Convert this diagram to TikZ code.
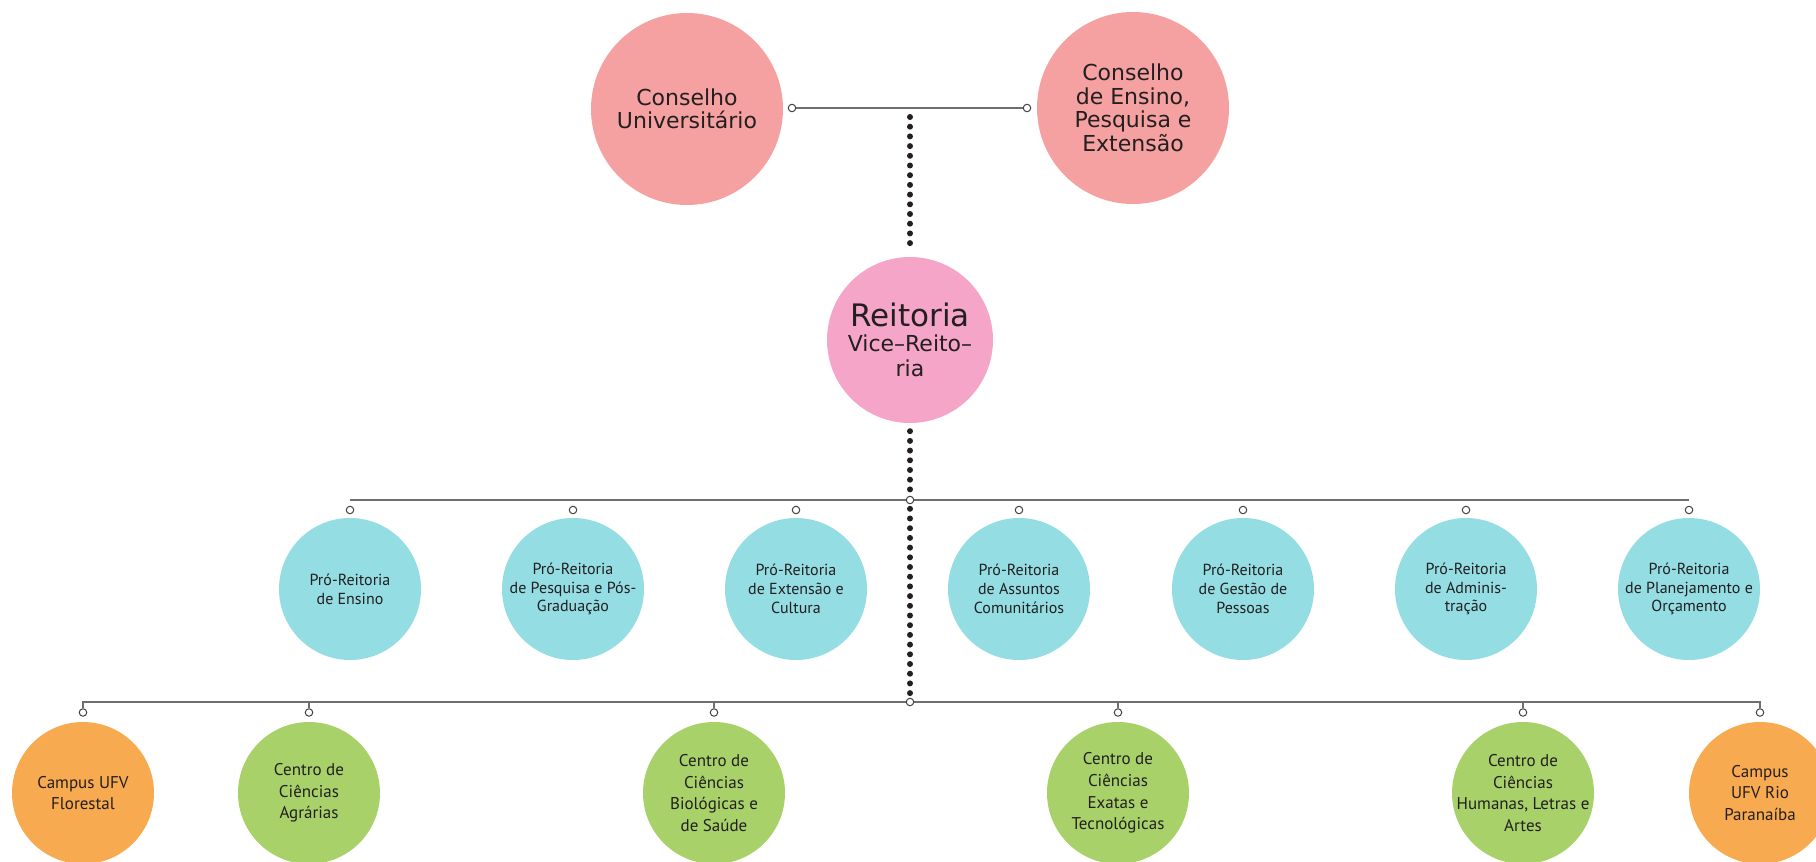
\documentclass[tikz,border=0pt]{standalone}
\usepackage{fontspec}
\setmainfont{PT Sans}
\newfontfamily\dejavu{DejaVu Sans}
\usetikzlibrary{backgrounds}
\definecolor{salmon}{HTML}{F5A1A1}
\definecolor{reitpink}{HTML}{F5A5C8}
\definecolor{cyanc}{HTML}{93DDE3}
\definecolor{greenc}{HTML}{A8D269}
\definecolor{orangec}{HTML}{F8AA50}
\definecolor{txt}{HTML}{231F20}
\definecolor{linegray}{HTML}{6D6E71}
\tikzset{
  bub/.style={circle, inner sep=-20pt, align=center, text=txt},
  topc/.style={bub, fill=salmon, minimum size=192pt, font=\dejavu\fontsize{22}{23.5}\selectfont},
  reitc/.style={bub, fill=reitpink, minimum size=166pt, font=\dejavu\fontsize{22}{25}\selectfont},
  proc/.style={bub, fill=cyanc, minimum size=142pt, font=\fontsize{16}{18.7}\selectfont},
  cenc/.style={bub, fill=greenc, minimum size=142pt, font=\fontsize{17}{21.7}\selectfont},
  camc/.style={bub, fill=orangec, minimum size=142pt, font=\fontsize{17}{21.7}\selectfont},
  odot/.style={circle, draw=txt!85, fill=white, line width=1pt, inner sep=0pt, minimum size=7.5pt},
  conn/.style={draw=linegray, line width=1.6pt},
  dotline/.style={draw=txt, line width=6pt, line cap=round, dash pattern=on 0pt off 9.7pt},
}
\begin{document}
\begin{tikzpicture}[x=1pt,y=-1pt]
\clip (0,0) rectangle (1816,862);

% top councils
\node[topc] (cu) at (687,109) {Conselho\\Universitário};
\node[topc] (ce) at (1133,108) {Conselho\\de Ensino,\\Pesquisa e\\Extensão};
\node[odot] (cud) at (792,108) {};
\node[odot] (ced) at (1027,108) {};

% reitoria
\node[reitc] (reit) at (910,340) {{\fontsize{31}{33}\selectfont Reitoria}\\Vice–Reito–\\ria};

% pro-reitorias
\node[proc] (p1) at (350,589) {Pró-Reitoria\\de Ensino};
\node[proc] (p2) at (573,589) {Pró-Reitoria\\de Pesquisa e Pós-\\Graduação};
\node[proc] (p3) at (796,589) {Pró-Reitoria\\de Extensão e\\Cultura};
\node[proc] (p4) at (1019,589) {Pró-Reitoria\\de Assuntos\\Comunitários};
\node[proc] (p5) at (1243,589) {Pró-Reitoria\\de Gestão de\\Pessoas};
\node[proc] (p6) at (1466,589) {Pró-Reitoria\\de Adminis-\\tração};
\node[proc] (p7) at (1689,589) {Pró-Reitoria\\de Planejamento e\\Orçamento};
\foreach \i/\xx in {1/350,2/573,3/796,4/1019,5/1243,6/1466,7/1689}
  \node[odot] (p\i d) at (\xx,510) {};

% centros / campi
\node[camc] (b1) at (83,793) {Campus UFV\\Florestal};
\node[cenc] (b2) at (309,793) {Centro de\\Ciências\\Agrárias};
\node[cenc] (b3) at (714,793) {Centro de\\Ciências\\Biológicas e\\de Saúde};
\node[cenc] (b4) at (1118,793) {Centro de\\Ciências\\Exatas e\\Tecnológicas};
\node[cenc] (b5) at (1523,793) {Centro de\\Ciências\\Humanas, Letras e\\Artes};
\node[camc] (b6) at (1760,793) {Campus\\UFV Rio\\Paranaíba};
\foreach \i/\xx in {1/83,2/309,3/714,4/1118,5/1523,6/1760}
  \node[odot] (b\i d) at (\xx,712.5) {};

% junctions
\coordinate (tj) at (910,117);
\coordinate (mL) at (350,500);
\coordinate (mR) at (1689,500);
\coordinate (bL) at (83,702);
\node[odot] (mc) at (910,500) {};
\node[odot] (bc) at (910,702) {};

\begin{pgfonlayer}{background}
  \draw[conn] (cud) -- (ced);
  \draw[conn] (mL) -- (mR);
  \draw[conn] (b1d.north) -- (b1d.north |- bL) -- (b6d.north |- bL) -- (b6d.north);
  \foreach \i in {2,3,4,5}
    \draw[conn] (b\i d.north) -- (b\i d.north |- bL);
  \draw[dotline] (tj) -- ([yshift=10pt]reit.north);
  \draw[dotline] ([yshift=-8pt]reit.south) -- (bc.north);
\end{pgfonlayer}
\end{tikzpicture}
\end{document}
